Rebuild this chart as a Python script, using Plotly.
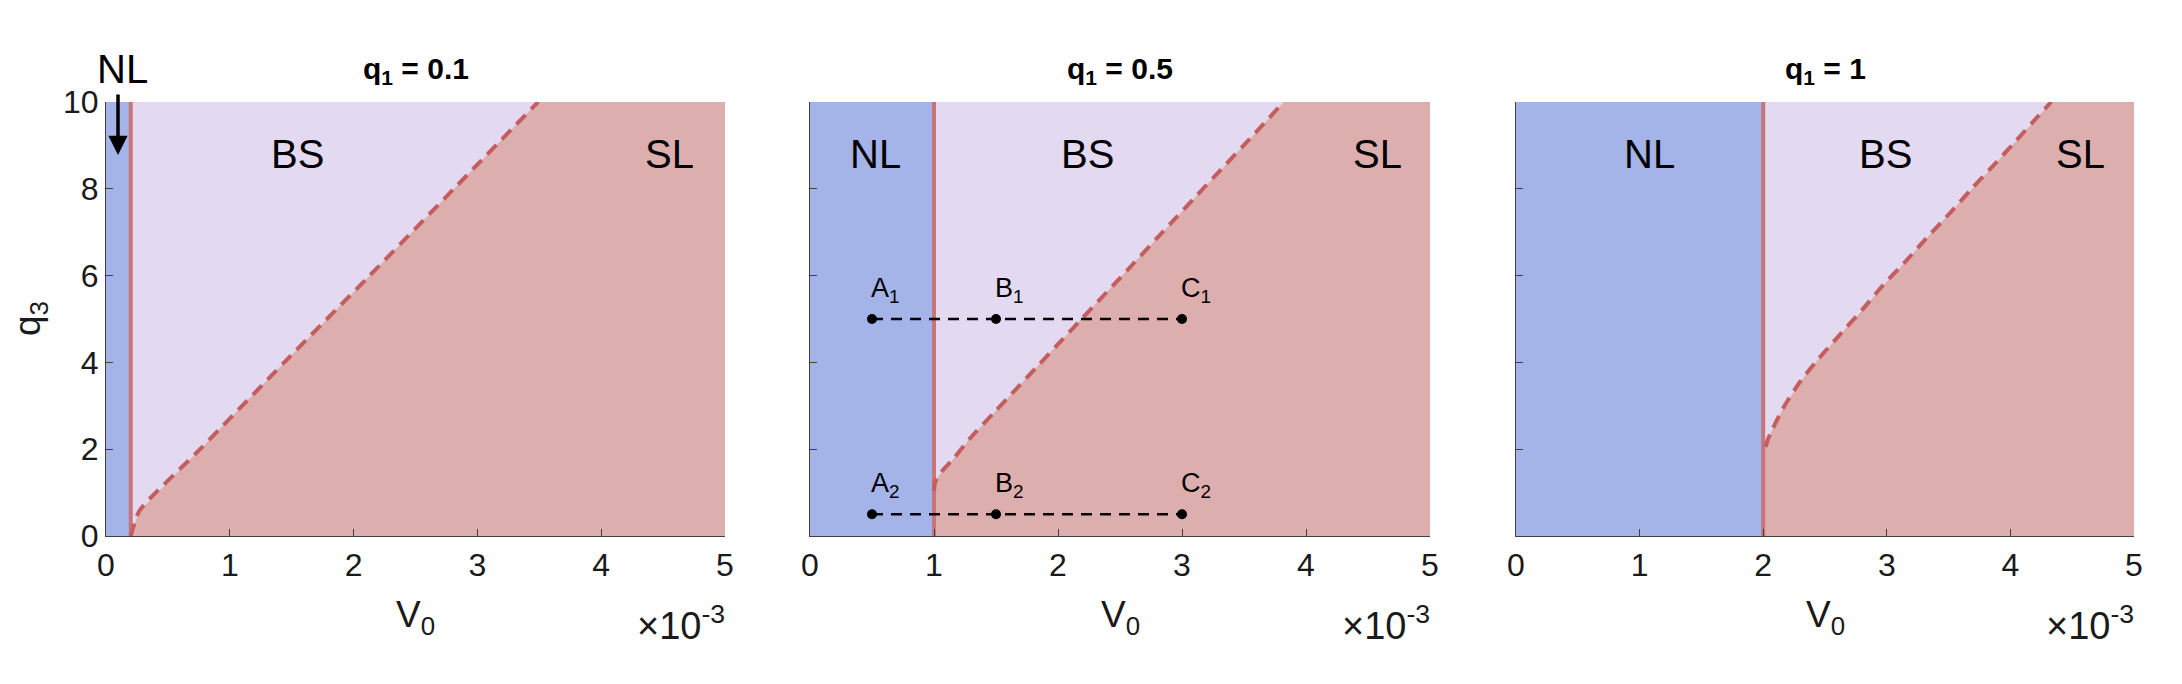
import plotly.graph_objects as go

# ---------------- data ----------------
q1_titles = ["q<sub>1</sub> = 0.1", "q<sub>1</sub> = 0.5", "q<sub>1</sub> = 1"]
nl_boundary = [0.2, 1.0, 2.0]          # V0 (x10^-3) of NL / BS boundary

# dashed BS / SL boundary curves (V0 in 1e-3, q3)
curve1_v = [0.20, 0.22, 0.27, 0.76, 1.44, 2.13, 2.81, 3.49]
curve1_q = [0.00, 0.20, 0.58, 2.00, 4.00, 6.00, 8.00, 10.0]
curve2_v = [1.00, 1.01, 1.06, 1.16, 1.29, 1.48, 1.67, 1.85, 2.04, 2.20,
            2.45, 2.61, 2.80, 2.96, 3.12, 3.31, 3.49, 3.66, 3.82]
curve2_q = [1.04, 1.25, 1.48, 1.79, 2.25, 2.83, 3.41, 3.96, 4.54, 5.03,
            5.79, 6.28, 6.87, 7.36, 7.85, 8.43, 8.98, 9.50, 10.0]
curve3_v = [2.02, 2.035, 2.065, 2.16, 2.30, 2.45, 2.63, 2.80, 2.97, 3.15,
            3.32, 3.52, 3.69, 3.89, 4.05, 4.22, 4.33]
curve3_q = [2.05, 2.20, 2.40, 2.94, 3.56, 4.09, 4.67, 5.21, 5.78, 6.32,
            6.86, 7.47, 8.01, 8.62, 9.12, 9.66, 10.0]
curves = [(curve1_v, curve1_q), (curve2_v, curve2_q), (curve3_v, curve3_q)]

# sample points in the q1 = 0.5 panel
pts_names = ["A", "B", "C"]
pts_v = [0.5, 1.5, 3.0]
pts_q = [5.0, 0.5]                     # rows 1 and 2

# region labels (V0, q3) per panel
label_text = ["NL", "BS", "SL"]
label_v = [[None, 1.55, 4.55], [0.53, 2.24, 4.58], [1.08, 2.99, 4.57]]
label_q = [[None, 8.8, 8.8], [8.8, 8.8, 8.8], [8.8, 8.8, 8.8]]

x_ticks = [0, 1, 2, 3, 4, 5]
y_ticks = [0, 2, 4, 6, 8, 10]
x_max, y_max = 5, 10

# ---------------- style ----------------
FONT = "Liberation Sans, Arial, Helvetica, sans-serif"
C_NL = "#A4B4E8"
C_BS = "#E3D9F1"
C_SL = "#DCAEAE"
C_VLINE = "#C8757A"
C_DASH = "#C45E5E"
TXT = "#1a1a1a"

W, H = 2182, 684
OFF = 8   # page body margin compensation (px)


def px(xp):
    return (xp - OFF) / W


def py(yp):
    return 1 - (yp - OFF) / H


px_dom = [(106, 725), (810, 1430), (1516, 2134)]
y_dom = [py(536), py(102)]

fig = go.Figure()

for i in range(3):
    xa = "x" if i == 0 else f"x{i+1}"
    ya = "y" if i == 0 else f"y{i+1}"
    b = nl_boundary[i]
    cv, cq = curves[i]
    # NL region
    fig.add_trace(go.Scatter(x=[0, b, b, 0, 0], y=[0, 0, y_max, y_max, 0],
                             fill="toself", fillcolor=C_NL, mode="lines",
                             line=dict(width=0), xaxis=xa, yaxis=ya,
                             showlegend=False, hoverinfo="skip"))
    # BS region (above curve)
    fig.add_trace(go.Scatter(x=[b] + cv + [b], y=[cq[0]] + cq + [y_max],
                             fill="toself", fillcolor=C_BS, mode="lines",
                             line=dict(width=0), xaxis=xa, yaxis=ya,
                             showlegend=False, hoverinfo="skip"))
    # SL region (below curve)
    fig.add_trace(go.Scatter(x=[b, b] + cv + [x_max, x_max, b],
                             y=[0, cq[0]] + cq + [y_max, 0, 0],
                             fill="toself", fillcolor=C_SL, mode="lines",
                             line=dict(width=0), xaxis=xa, yaxis=ya,
                             showlegend=False, hoverinfo="skip"))
    # NL boundary line
    fig.add_trace(go.Scatter(x=[b, b], y=[0, y_max], mode="lines",
                             line=dict(color=C_VLINE, width=4),
                             xaxis=xa, yaxis=ya, showlegend=False, hoverinfo="skip"))
    # dashed BS/SL boundary
    fig.add_trace(go.Scatter(x=cv, y=cq, mode="lines", line_shape="spline",
                             line=dict(color=C_DASH, width=4, dash="13px,8px",
                                       smoothing=0.7),
                             xaxis=xa, yaxis=ya, showlegend=False, hoverinfo="skip"))

# sample points in panel 2
for r, q in enumerate(pts_q):
    fig.add_trace(go.Scatter(x=pts_v, y=[q] * len(pts_v), mode="lines+markers",
                             line=dict(color="black", width=2.5, dash="11px,8px"),
                             marker=dict(color="black", size=10),
                             xaxis="x2", yaxis="y2", showlegend=False, hoverinfo="skip"))
    for n, v in zip(pts_names, pts_v):
        fig.add_annotation(x=v, y=q, xref="x2", yref="y2",
                           text=f"{n}<sub>{r+1}</sub>", showarrow=False,
                           xanchor="left", yanchor="bottom", xshift=-3, yshift=10,
                           font=dict(family=FONT, size=27, color="black"))

# axes
for i in range(3):
    sfx = "" if i == 0 else str(i + 1)
    x0, x1 = px_dom[i]
    fig.update_layout(**{
        f"xaxis{sfx}": dict(domain=[px(x0), px(x1)], range=[0, x_max],
                            tickvals=x_ticks, ticktext=[str(t) for t in x_ticks],
                            ticks="inside", ticklen=7, tickcolor="#404040",
                            showline=True, linecolor="#404040", linewidth=1.2,
                            showgrid=False, zeroline=False, mirror=False,
                            automargin=False,
                            tickfont=dict(family=FONT, size=32, color=TXT),
                            anchor="y" + sfx, layer="above traces"),
        f"yaxis{sfx}": dict(domain=y_dom, range=[0, y_max],
                            tickvals=y_ticks,
                            ticktext=[str(t) for t in y_ticks] if i == 0 else [""] * len(y_ticks),
                            ticks="inside", ticklen=7, tickcolor="#404040",
                            showline=True, linecolor="#404040", linewidth=1.2,
                            showgrid=False, zeroline=False, automargin=False,
                            tickfont=dict(family=FONT, size=32, color=TXT),
                            anchor="x" + sfx, layer="above traces"),
    })
    cx = (px(x0) + px(x1)) / 2
    # panel title
    fig.add_annotation(x=cx, y=py(70), xref="paper", yref="paper",
                       text=f"<b>{q1_titles[i]}</b>", showarrow=False,
                       xanchor="center", yanchor="middle",
                       font=dict(family=FONT, size=30, color="black"))
    # x-axis title
    fig.add_annotation(x=cx, y=py(592), xref="paper", yref="paper",
                       text="V<sub>0</sub>", showarrow=False,
                       xanchor="center", yanchor="top",
                       font=dict(family=FONT, size=37, color=TXT))
    # exponent label
    fig.add_annotation(x=px(x1 + 2), y=py(597), xref="paper", yref="paper",
                       text="×10<sup>-3</sup>", showarrow=False,
                       xanchor="right", yanchor="top",
                       font=dict(family=FONT, size=38, color=TXT))
    # region labels
    for t, v, q in zip(label_text, label_v[i], label_q[i]):
        if v is None:
            continue
        fig.add_annotation(x=v, y=q, xref="x" + sfx, yref="y" + sfx,
                           text=t, showarrow=False, xanchor="center", yanchor="middle",
                           font=dict(family=FONT, size=40, color="black"))

# NL label above panel 1 (outside the axis range -> paper coordinates)
fig.add_annotation(x=px(122), y=py(69), xref="paper", yref="paper",
                   text="NL", showarrow=False, xanchor="center", yanchor="middle",
                   font=dict(family=FONT, size=40, color="black"))

# y-axis title
fig.add_annotation(x=px(30), y=(y_dom[0] + y_dom[1]) / 2, xref="paper", yref="paper",
                   text="q<sub>3</sub>", showarrow=False, textangle=-90,
                   xanchor="center", yanchor="middle",
                   font=dict(family=FONT, size=37, color=TXT))

# NL arrow in panel 1
fig.add_annotation(x=px(118), y=py(155), ax=0, ay=-62,
                   xref="paper", yref="paper", axref="pixel", ayref="pixel",
                   text="", showarrow=True,
                   arrowhead=2, arrowsize=1.1, arrowwidth=3.5, arrowcolor="black")

fig.update_layout(width=W, height=H, margin=dict(l=0, r=0, t=0, b=0, autoexpand=False),
                  paper_bgcolor="white", plot_bgcolor="white",
                  font=dict(family=FONT))

fig.write_html("out.html")
